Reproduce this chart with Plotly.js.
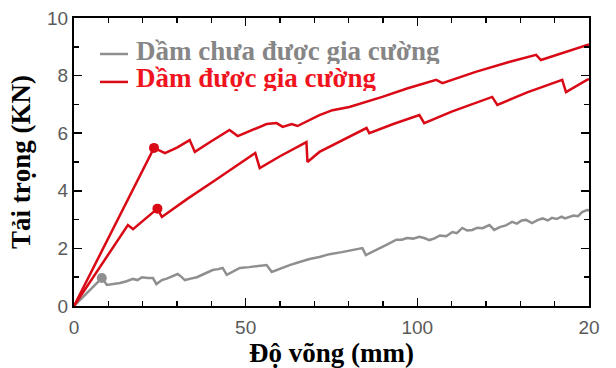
<!DOCTYPE html>
<html>
<head>
<meta charset="utf-8">
<script src="https://cdn.plot.ly/plotly-3.0.1.min.js"></script>
<style>html,body{margin:0;padding:0;background:#fff;}#chart{width:616px;height:368px;}</style>
</head>
<body>
<div id="chart"></div>
<script>
// Series names
const seriesNames = ['Dầm chưa được gia cường', 'Dầm được gia cường'];

// Unreinforced beam (gray)
const grayX = [0, 8.1, 9.6, 11.5, 13.4, 15.3, 17.2, 18.5, 19.8, 21.5, 23, 24, 25.6, 27, 27.9, 30.2, 31.2, 32.3, 34, 35.8, 38, 40.4, 42, 43.3, 44.5, 46.5, 48.3, 51, 53.2, 56.1, 57.6, 60, 62.8, 65.7, 68.6, 71.5, 74.4, 78, 81, 84, 85, 87, 89, 91, 93.9, 95.5, 97, 98.8, 100.6, 102, 103.5, 105, 106.6, 108.4, 110.2, 111.5, 113.1, 114.5, 116, 117.5, 119, 121, 122.4, 124, 125.8, 127.6, 129, 130.4, 131.7, 133.4, 135, 136.5, 138, 139.2, 140.6, 142, 143, 144.2, 145.5, 146.8, 148, 149.4, 150];
const grayY = [0, 0.97, 0.73, 0.76, 0.8, 0.86, 0.94, 0.9, 1.0, 0.97, 0.97, 0.76, 0.9, 0.95, 1.0, 1.11, 1.02, 0.9, 0.95, 1.0, 1.12, 1.25, 1.28, 1.32, 1.08, 1.2, 1.32, 1.35, 1.39, 1.42, 1.18, 1.3, 1.42, 1.53, 1.63, 1.7, 1.8, 1.87, 1.93, 2.01, 1.77, 1.88, 2.0, 2.12, 2.3, 2.3, 2.36, 2.34, 2.4, 2.36, 2.29, 2.35, 2.45, 2.42, 2.57, 2.53, 2.71, 2.62, 2.64, 2.72, 2.7, 2.81, 2.64, 2.74, 2.8, 2.92, 2.86, 2.97, 2.99, 2.88, 2.98, 3.04, 2.97, 3.06, 3.02, 3.1, 3.04, 3.09, 3.14, 3.12, 3.26, 3.33, 3.32];

// Reinforced beam, upper curve (red)
const redAX = [0, 23.3, 26.5, 30, 33.7, 35.2, 40, 45.3, 47.7, 52, 56.1, 59, 60.8, 63.4, 65.1, 71.5, 75.3, 80.2, 89.8, 97, 105.5, 107.3, 117, 126.7, 134.6, 136, 142.2, 149.4, 150];
const redAY = [0, 5.49, 5.31, 5.5, 5.76, 5.35, 5.72, 6.11, 5.9, 6.12, 6.32, 6.35, 6.22, 6.32, 6.25, 6.63, 6.8, 6.91, 7.26, 7.55, 7.85, 7.74, 8.13, 8.47, 8.72, 8.54, 8.78, 9.06, 9.08];

// Reinforced beam, lower curve (red)
const redBX = [0, 15.7, 17.2, 24.3, 25.6, 33, 41, 47, 52.8, 54.1, 60, 67.7, 68, 71.5, 77, 85.2, 86, 93, 100.6, 102, 110, 121.8, 123.3, 132, 142.2, 143.3, 149.4, 150];
const redBY = [0, 2.81, 2.67, 3.38, 3.09, 3.72, 4.36, 4.85, 5.31, 4.79, 5.2, 5.69, 5.0, 5.35, 5.68, 6.18, 6.0, 6.32, 6.63, 6.35, 6.75, 7.26, 6.98, 7.42, 7.85, 7.43, 7.85, 7.88];

// Marked points (first crack)
const markGrayX = [8.1], markGrayY = [0.97];
const markRedX = [23.3, 24.3], markRedY = [5.49, 3.38];

// Axis ticks
const xTickVals = [0, 50, 100, 150];
const xTickText = ['0', '50', '100', '20'];
const yTickVals = [0, 2, 4, 6, 8, 10];
const yTickText = ['0', '2', '4', '6', '8', '10'];

const GRAY = '#8f8f8f', RED = '#d90a16';
const SERIF = 'Liberation Serif, Times New Roman, serif';

const traces = [
  {x: grayX, y: grayY, mode: 'lines', line: {color: GRAY, width: 2.5}, name: seriesNames[0], showlegend: false},
  {x: redAX, y: redAY, mode: 'lines', line: {color: RED, width: 2.5}, name: seriesNames[1], showlegend: false},
  {x: redBX, y: redBY, mode: 'lines', line: {color: RED, width: 2.5}, name: seriesNames[1], showlegend: false},
  {x: markGrayX, y: markGrayY, mode: 'markers', marker: {color: GRAY, size: 10}, showlegend: false},
  {x: markRedX, y: markRedY, mode: 'markers', marker: {color: RED, size: 10}, showlegend: false}
];

// Legend (drawn as annotations + short line samples)
const legendRows = [
  {text: seriesNames[0], color: '#868686', line: GRAY, y: 0.875},
  {text: seriesNames[1], color: '#f0141e', line: RED, y: 0.778}
];
const annotations = legendRows.map(r => ({
  xref: 'paper', yref: 'paper', x: 0.118, y: r.y + 0.012, xanchor: 'left', yanchor: 'middle',
  showarrow: false, text: '<b>' + r.text + '</b>', height: 26, valign: 'middle', borderpad: 0,
  font: {family: SERIF, size: 27, color: r.color}
}));
const shapes = legendRows.map(r => ({
  type: 'line', xref: 'paper', yref: 'paper', x0: 0.0505, x1: 0.1049, y0: r.y, y1: r.y,
  line: {color: r.line, width: 2.5}
}));

const axisCommon = {
  showline: true, linecolor: '#000', linewidth: 2, mirror: 'ticks',
  ticks: 'inside', ticklen: 8, tickwidth: 1.5, tickcolor: '#000',
  showgrid: false, zeroline: false,
  tickfont: {family: 'Liberation Sans, Arial, sans-serif', size: 19, color: '#5a5a5a'}
};

const layout = {
  width: 616, height: 368,
  margin: {l: 74, r: 27, t: 18, b: 62},
  paper_bgcolor: '#fff', plot_bgcolor: '#fff',
  showlegend: false,
  annotations: annotations,
  shapes: shapes,
  xaxis: Object.assign({}, axisCommon, {
    range: [0, 150], tickmode: 'array', tickvals: xTickVals, ticktext: xTickText,
    ticklabelstandoff: 3,
    minor: {dtick: 10, tick0: 0, ticks: 'inside', ticklen: 5, tickwidth: 1.5, tickcolor: '#000'},
    title: {text: 'Độ võng (mm)', standoff: 4,
            font: {family: SERIF, size: 27, weight: 'bold', color: '#000'}}
  }),
  yaxis: Object.assign({}, axisCommon, {
    range: [0, 10], tickmode: 'array', tickvals: yTickVals, ticktext: yTickText,
    minor: {dtick: 1, tick0: 0, ticks: 'inside', ticklen: 5, tickwidth: 1.5, tickcolor: '#000'},
    title: {text: 'Tải trọng (KN)', standoff: 9,
            font: {family: SERIF, size: 27, weight: 'bold', color: '#000'}}
  })
};

Plotly.newPlot('chart', traces, layout, {displayModeBar: false, staticPlot: true});
</script>
</body>
</html>
